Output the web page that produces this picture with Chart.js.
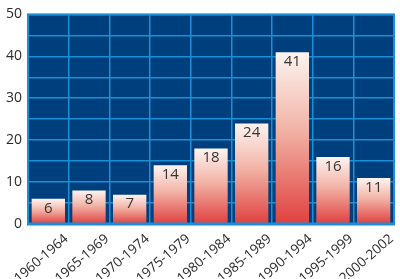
<!DOCTYPE html>
<html>
<head>
<meta charset="utf-8">
<script src="https://cdn.jsdelivr.net/npm/chart.js@4"></script>
<style>
  html, body { margin: 0; padding: 0; background: #fff; }
  #wrap { width: 400px; height: 279px; position: relative; }
</style>
</head>
<body>
<div id="wrap"><canvas id="chart"></canvas></div>
<script>
// periods and counts
const periods = ['1960-1964', '1965-1969', '1970-1974', '1975-1979', '1980-1984',
  '1985-1989', '1990-1994', '1995-1999', '2000-2002'];
const counts = [6, 8, 7, 14, 18, 24, 41, 16, 11];
const yMax = 50;

const PLOT_BG = '#003f7d';
const GRID = '#1b8fd5';
const FONT = '"Open Sans", "Liberation Sans", sans-serif';

function barGradient(context) {
  const chart = context.chart;
  const y = chart.scales.y;
  if (!y || context.type !== 'data') return '#f0a898';
  const top = y.getPixelForValue(context.raw);
  const bottom = y.getPixelForValue(0);
  if (!isFinite(top) || !isFinite(bottom) || top === bottom) return '#f0a898';
  const g = chart.ctx.createLinearGradient(0, top, 0, bottom);
  g.addColorStop(0, '#fdf4f1');
  g.addColorStop(0.45, '#f2b3a6');
  g.addColorStop(1, '#e0403f');
  return g;
}

const plotExtras = {
  id: 'plotExtras',
  beforeDraw(chart) {
    const { ctx, chartArea: a } = chart;
    ctx.save();
    ctx.fillStyle = PLOT_BG;
    ctx.fillRect(a.left, a.top, a.right - a.left, a.bottom - a.top);
    ctx.restore();
  },
  afterDatasetsDraw(chart) {
    const { ctx, chartArea: a } = chart;
    const xs = chart.scales.x;
    ctx.save();
    // frame
    ctx.strokeStyle = GRID;
    ctx.lineWidth = 2;
    ctx.strokeRect(a.left, a.top, a.right - a.left, a.bottom - a.top);
    ctx.lineWidth = 3;
    ctx.beginPath();
    ctx.moveTo(a.left - 1, a.bottom);
    ctx.lineTo(a.right + 1, a.bottom);
    ctx.stroke();
    // value labels
    ctx.fillStyle = '#3a3333';
    ctx.font = '15px ' + FONT;
    ctx.textAlign = 'center';
    ctx.textBaseline = 'top';
    chart.getDatasetMeta(0).data.forEach((bar, i) => {
      ctx.fillText(String(counts[i]), bar.x, bar.y + 2);
    });
    // rotated category labels
    ctx.fillStyle = '#2b2b2b';
    ctx.font = '13.5px ' + FONT;
    ctx.textAlign = 'right';
    ctx.textBaseline = 'middle';
    periods.forEach((p, i) => {
      const x = xs.getPixelForTick(i);
      ctx.save();
      ctx.translate(x + 18, a.bottom + 13);
      ctx.rotate(-41 * Math.PI / 180);
      ctx.fillText(p, 0, 0);
      ctx.restore();
    });
    ctx.restore();
  }
};

new Chart(document.getElementById('chart'), {
  type: 'bar',
  data: {
    labels: periods,
    datasets: [{
      data: counts,
      backgroundColor: barGradient,
      borderWidth: 0,
      barPercentage: 0.82,
      categoryPercentage: 1
    }]
  },
  options: {
    responsive: true,
    maintainAspectRatio: false,
    animation: false,
    layout: { padding: { top: 13, right: 6, left: 0, bottom: 0 } },
    plugins: { legend: { display: false }, tooltip: { enabled: false } },
    scales: {
      x: {
        grid: { color: GRID, lineWidth: 1.5, drawTicks: false, offset: true },
        border: { display: false },
        ticks: { display: false },
        afterFit(scale) { scale.height = 55; }
      },
      y: {
        min: 0,
        max: yMax,
        grid: { color: GRID, lineWidth: 1.5, drawTicks: false },
        border: { display: false },
        ticks: {
          stepSize: 5,
          color: '#2b2b2b',
          font: { family: FONT, size: 14 },
          padding: 6,
          callback: v => (v % 10 === 0 ? v : '')
        },
        afterFit(scale) { scale.width = 28; }
      }
    }
  },
  plugins: [plotExtras]
});
</script>
</body>
</html>
